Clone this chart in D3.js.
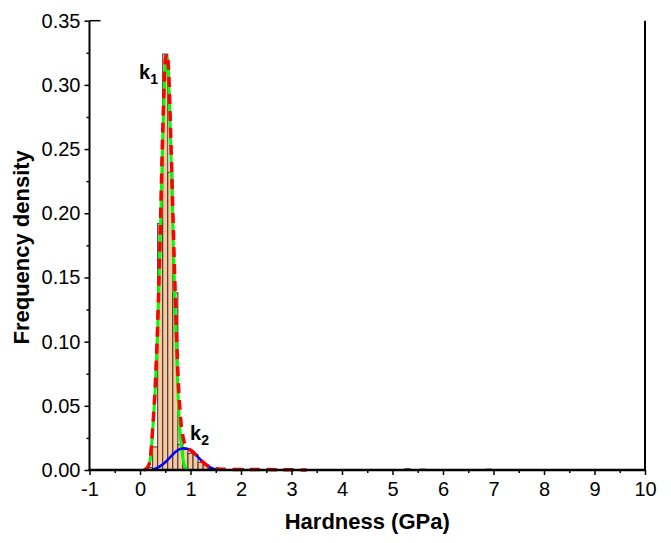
<!DOCTYPE html>
<html>
<head>
<meta charset="utf-8">
<script src="https://cdn.jsdelivr.net/npm/d3@7"></script>
<style>
  body { margin: 0; background: #fff; }
  text { font-family: "Liberation Sans", Arial, sans-serif; }
</style>
</head>
<body>
<div id="chart"></div>
<script>
// histogram bins (bin start, width 0.1 GPa) and frequency values
const binStart = [0.15, 0.25, 0.35, 0.45, 0.55, 0.65, 0.75, 0.85, 0.95, 1.05, 1.15, 1.25, 1.35, 1.95, 2.85, 5.25, 5.55, 6.85];
const binValue = [0.002, 0.018, 0.192, 0.324, 0.232, 0.138, 0.020, 0.016, 0.013, 0.012, 0.006, 0.004, 0.001, 0.001, 0.001, 0.001, 0.0007, 0.0007];
const binWidth = 0.1;

// fitted peak k1 (green)
const k1X = [0.08, 0.15, 0.2, 0.25, 0.3, 0.35, 0.4, 0.45, 0.5, 0.53, 0.56, 0.6, 0.65, 0.7, 0.75, 0.8, 0.85, 0.9, 0.96];
const k1Y = [0, 0.002, 0.007, 0.03, 0.062, 0.11, 0.18, 0.258, 0.312, 0.322, 0.312, 0.265, 0.192, 0.12, 0.062, 0.026, 0.009, 0.002, 0];

// fitted peak k2 (blue)
const k2X = [0.25, 0.4, 0.5, 0.6, 0.7, 0.8, 0.87, 0.95, 1.05, 1.15, 1.25, 1.35, 1.45, 1.55];
const k2Y = [0, 0.003, 0.006, 0.010, 0.014, 0.0165, 0.017, 0.0165, 0.014, 0.010, 0.006, 0.003, 0.001, 0];

// cumulative fit (red dashed)
const sumX = [0.08, 0.15, 0.2, 0.25, 0.3, 0.35, 0.4, 0.45, 0.5, 0.53, 0.56, 0.6, 0.65, 0.7, 0.75, 0.8, 0.85, 0.9, 0.95, 1.05, 1.15, 1.25, 1.35, 1.5, 1.7, 2.5, 3.3];
const sumY = [0, 0.002, 0.008, 0.032, 0.064, 0.114, 0.184, 0.264, 0.318, 0.324, 0.316, 0.272, 0.202, 0.134, 0.076, 0.042, 0.026, 0.019, 0.017, 0.014, 0.010, 0.006, 0.003, 0.001, 0.0005, 0.0003, 0];

const xTicks = [-1, 0, 1, 2, 3, 4, 5, 6, 7, 8, 9, 10];
const yTicks = [0, 0.05, 0.10, 0.15, 0.20, 0.25, 0.30, 0.35];

const width = 671, height = 543;
const xScale = d3.scaleLinear().domain([-1, 10]).range([89.5, 645]);
const yScale = d3.scaleLinear().domain([0, 0.35]).range([470, 20.7]);

const svg = d3.select('#chart').append('svg')
  .attr('width', width)
  .attr('height', height);

// bars
svg.append('g').selectAll('rect')
  .data(binStart.map((s, i) => ({s, v: binValue[i]})))
  .enter().append('rect')
  .attr('x', d => xScale(d.s))
  .attr('y', d => yScale(d.v))
  .attr('width', d => xScale(d.s + binWidth) - xScale(d.s))
  .attr('height', d => yScale(0) - yScale(d.v))
  .attr('fill', '#fbc89e')
  .attr('stroke', '#333')
  .attr('stroke-width', 1);

const line = d3.line()
  .x(d => xScale(d[0]))
  .y(d => yScale(d[1]))
  .curve(d3.curveMonotoneX);

svg.append('path')
  .attr('d', line(k1X.map((x, i) => [x, k1Y[i]])))
  .attr('fill', 'none')
  .attr('stroke', '#00ff00')
  .attr('stroke-width', 3);

svg.append('path')
  .attr('d', line(k2X.map((x, i) => [x, k2Y[i]])))
  .attr('fill', 'none')
  .attr('stroke', '#0000ff')
  .attr('stroke-width', 2.5);

svg.append('path')
  .attr('d', line(sumX.map((x, i) => [x, sumY[i]])))
  .attr('fill', 'none')
  .attr('stroke', '#ff0000')
  .attr('stroke-width', 3.5)
  .attr('stroke-dasharray', '10,7');

// axes
const xAxis = d3.axisBottom(xScale).tickValues(xTicks).tickSize(5).tickPadding(7)
  .tickFormat(d => String(d));
const xMinor = d3.axisBottom(xScale).tickValues(d3.range(-0.5, 10, 1)).tickSize(3).tickFormat('');
const yAxis = d3.axisLeft(yScale).tickValues(yTicks).tickSize(5).tickPadding(4)
  .tickFormat(d => d.toFixed(2));
const yMinor = d3.axisLeft(yScale).tickValues(d3.range(0.025, 0.35, 0.05)).tickSize(3).tickFormat('');

svg.append('g').attr('transform', `translate(0,${yScale(0)})`).call(xAxis);
svg.append('g').attr('transform', `translate(0,${yScale(0)})`).call(xMinor);
svg.append('g').attr('transform', `translate(${xScale(-1)},0)`).call(yAxis);
svg.append('g').attr('transform', `translate(${xScale(-1)},0)`).call(yMinor);

svg.selectAll('.domain').remove();
svg.selectAll('.tick line').attr('stroke', '#000').attr('stroke-width', 1.5);
svg.selectAll('.tick text').attr('font-size', 20).attr('fill', '#000')
  .attr('font-family', '"Liberation Sans", Arial, sans-serif');

// frame lines
svg.append('line')
  .attr('x1', xScale(-1)).attr('x2', xScale(-1))
  .attr('y1', yScale(0.35)).attr('y2', yScale(0))
  .attr('stroke', '#000').attr('stroke-width', 2);
svg.append('line')
  .attr('x1', xScale(10)).attr('x2', xScale(10))
  .attr('y1', yScale(0.35)).attr('y2', yScale(0) + 1)
  .attr('stroke', '#000').attr('stroke-width', 2);
svg.append('line')
  .attr('x1', xScale(-1) - 1).attr('x2', xScale(10) + 1)
  .attr('y1', yScale(0)).attr('y2', yScale(0))
  .attr('stroke', '#000').attr('stroke-width', 2.5);
svg.append('line')
  .attr('x1', xScale(-1)).attr('x2', xScale(-1) + 11)
  .attr('y1', yScale(0.35)).attr('y2', yScale(0.35))
  .attr('stroke', '#000').attr('stroke-width', 1.5);

// axis titles
svg.append('text')
  .attr('x', (xScale(-1) + xScale(10)) / 2)
  .attr('y', 529)
  .attr('text-anchor', 'middle')
  .attr('font-size', 22)
  .attr('font-weight', 'bold')
  .text('Hardness (GPa)');

svg.append('text')
  .attr('transform', `translate(29,${yScale(0.175) + 2}) rotate(-90)`)
  .attr('text-anchor', 'middle')
  .attr('font-size', 22)
  .attr('font-weight', 'bold')
  .text('Frequency density');

// peak labels
const k1Label = svg.append('text')
  .attr('x', 139).attr('y', 79)
  .attr('font-size', 20).attr('font-weight', 'bold');
k1Label.append('tspan').text('k');
k1Label.append('tspan').attr('font-size', 14).attr('dy', 5).text('1');

const k2Label = svg.append('text')
  .attr('x', 190).attr('y', 440)
  .attr('font-size', 20).attr('font-weight', 'bold');
k2Label.append('tspan').text('k');
k2Label.append('tspan').attr('font-size', 14).attr('dy', 5).text('2');
</script>
</body>
</html>
